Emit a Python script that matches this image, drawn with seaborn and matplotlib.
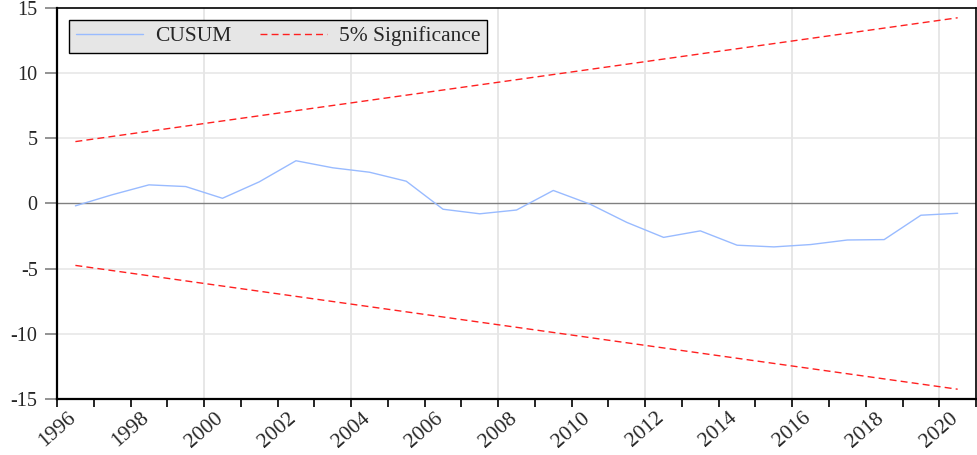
import numpy as np
import pandas as pd
import matplotlib.pyplot as plt
import seaborn as sns
from matplotlib.ticker import MultipleLocator

# CUSUM test values (points sit at mid-year)
years = [1996.5, 1997.5, 1998.5, 1999.5, 2000.5, 2001.5, 2002.5, 2003.5,
         2004.5, 2005.5, 2006.5, 2007.5, 2008.5, 2009.5, 2010.5, 2011.5,
         2012.5, 2013.5, 2014.5, 2015.5, 2016.5, 2017.5, 2018.5, 2019.5,
         2020.5]
cusum = [-0.18, 0.67, 1.43, 1.3, 0.4, 1.66, 3.28, 2.74,
         2.4, 1.71, -0.44, -0.79, -0.5, 1.0, -0.05, -1.45,
         -2.6, -2.1, -3.2, -3.33, -3.15, -2.8, -2.77, -0.9,
         -0.75]

# 5% bounds (straight lines, start and end)
bound_years = [1996.5, 2020.5]
upper = [4.75, 14.25]
lower = [-4.75, -14.25]

year_labels = list(range(1996, 2021, 2))

df = pd.DataFrame({'year': years, 'CUSUM': cusum})
bounds = pd.DataFrame({'year': bound_years, 'upper': upper, 'lower': lower})

sns.set_theme(style='white')
plt.rcParams['font.family'] = ['Liberation Serif', 'DejaVu Serif']
plt.rcParams['axes.unicode_minus'] = False

fig = plt.figure(figsize=(9.78, 4.55), dpi=100)
ax = fig.add_axes([0.0583, 0.1231, 0.9397, 0.8593])

ax.axhline(0, color='#808080', lw=1.0, zorder=1)
sns.lineplot(x='year', y='CUSUM', data=df, ax=ax, color='#99bbff',
             lw=1.0, label='CUSUM', zorder=3)
sns.lineplot(x='year', y='upper', data=bounds, ax=ax, color='#ff2020',
             lw=1.0, linestyle=(0, (5, 3)), label='5% Significance', zorder=3)
sns.lineplot(x='year', y='lower', data=bounds, ax=ax, color='#ff2020',
             lw=1.0, linestyle=(0, (5, 3)), zorder=3)

ax.set_xlim(1996, 2021)
ax.set_ylim(-15, 15)
ax.set_xlabel('')
ax.set_ylabel('')

ax.set_xticks(year_labels)
ax.set_xticklabels([str(y) for y in year_labels], rotation=41, ha='center',
                   va='top', fontsize=15.5)
ax.xaxis.set_minor_locator(MultipleLocator(1))
ax.set_yticks(range(-15, 16, 5))
ax.tick_params(axis='y', labelsize=14.5, length=9, width=1.2,
               color='#808080', pad=5, left=True)
ax.tick_params(axis='x', which='both', length=6, width=1.2,
               color='black', bottom=True, pad=1)
ax.tick_params(axis='x', which='minor', bottom=True)

# grid: vertical every 4 years, horizontal every 5
for gx in range(2000, 2021, 4):
    ax.axvline(gx, color='#e0e0e0', lw=1.1, zorder=0)
for gy in [-10, -5, 5, 10]:
    ax.axhline(gy, color='#e6e6e6', lw=1.1, zorder=0)

for side in ['left', 'bottom', 'top', 'right']:
    ax.spines[side].set_visible(True)
    ax.spines[side].set_color('black')
ax.spines['left'].set_linewidth(1.6)
ax.spines['bottom'].set_linewidth(1.6)
ax.spines['top'].set_linewidth(1.2)
ax.spines['right'].set_linewidth(1.2)

leg = ax.legend(loc='upper left', ncol=2, fontsize=15.5, frameon=True,
                fancybox=False, edgecolor='black', facecolor='#e6e6e6',
                framealpha=1.0, borderaxespad=0.0, handlelength=3.1,
                columnspacing=1.3, handletextpad=0.6, borderpad=0.3,
                bbox_to_anchor=(0.0135, 0.97))
leg.get_frame().set_linewidth(1.0)

fig.savefig('out.png', dpi=100)
